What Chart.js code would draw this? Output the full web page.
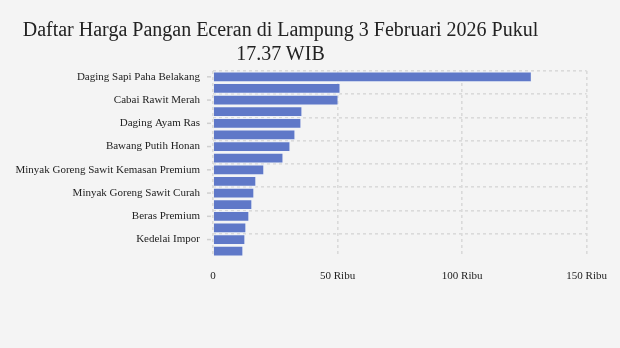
<!DOCTYPE html>
<html>
<head>
<meta charset="utf-8">
<script src="https://cdn.jsdelivr.net/npm/chart.js@4"></script>
<style>
  html, body { margin: 0; padding: 0; background: #f4f4f4; }
  #wrap { position: relative; width: 620px; height: 348px; }
  #title { position: absolute; left: 0; top: 17px; width: 561px; text-align: center;
           font-family: "Liberation Serif", serif; font-size: 20px; line-height: 24px; color: #222; }
  canvas { position: absolute; left: 0; top: 0; }
</style>
</head>
<body>
<div id="wrap">
  <canvas id="c" width="620" height="348"></canvas>
  <div id="title">Daftar Harga Pangan Eceran di Lampung 3 Februari 2026 Pukul<br>17.37 WIB</div>
</div>
<script>
const categories = [
  "Daging Sapi Paha Belakang",
  "Cabai Merah Keriting",
  "Cabai Rawit Merah",
  "Bawang Merah",
  "Daging Ayam Ras",
  "Cabai Merah Besar",
  "Bawang Putih Honan",
  "Telur Ayam Ras",
  "Minyak Goreng Sawit Kemasan Premium",
  "Gula Konsumsi",
  "Minyak Goreng Sawit Curah",
  "Minyakita",
  "Beras Premium",
  "Beras Medium",
  "Kedelai Impor",
  "Tepung Terigu"
];
const prices = [127900, 51100, 50300, 35800, 35400, 33000, 31000, 28200, 20500, 17300, 16500, 15700, 14500, 13300, 12900, 12100];
const xTicks = [0, 50000, 100000, 150000];
const xTickLabels = ["0", "50 Ribu", "100 Ribu", "150 Ribu"];

const labelFont = { family: "Liberation Serif", size: 11 };

const tickMarks = {
  id: 'tickMarks',
  afterDraw(chart) {
    const y = chart.scales.y;
    const ctx = chart.ctx;
    ctx.save();
    ctx.strokeStyle = '#cfcfcf';
    ctx.lineWidth = 1.5;
    categories.forEach((c, i) => {
      if (i % 2 !== 0) return;
      const py = y.getPixelForValue(i);
      ctx.beginPath();
      ctx.moveTo(y.right - 6, py);
      ctx.lineTo(y.right - 2, py);
      ctx.stroke();
    });
    ctx.restore();
  }
};

new Chart(document.getElementById('c'), {
  type: 'bar',
  data: {
    labels: categories,
    datasets: [{
      data: prices,
      backgroundColor: '#5f78c8',
      borderColor: 'rgba(235,240,250,0.8)',
      borderWidth: 0.8,
      barPercentage: 0.9,
      categoryPercentage: 1
    }]
  },
  options: {
    indexAxis: 'y',
    responsive: false,
    animation: false,
    layout: { padding: { top: 71, left: 0, right: 0, bottom: 0 } },
    plugins: { legend: { display: false }, tooltip: { enabled: false }, title: { display: false } },
    scales: {
      y: {
        afterFit(s) { s.width = 213; },
        border: { display: false, dash: [3, 3] },
        grid: {
          offset: true,
          drawTicks: false,
          lineWidth: 1.6,
          color: (ctx) => (ctx.index % 2 === 0 ? '#dadada' : 'rgba(0,0,0,0)')
        },
        ticks: {
          autoSkip: false,
          padding: 13,
          color: '#222',
          font: labelFont,
          callback: (v, i) => (i % 2 === 0 ? categories[i] : '')
        }
      },
      x: {
        min: 0,
        max: 150000,
        afterFit(s) { s.height = 91; },
        afterBuildTicks(s) { s.ticks = xTicks.map(v => ({ value: v })); },
        border: { display: false, dash: [3, 3] },
        grid: { drawTicks: false, color: '#dadada', lineWidth: 1.6 },
        ticks: {
          padding: 13,
          color: '#222',
          font: labelFont,
          maxRotation: 0,
          callback: (v) => xTickLabels[xTicks.indexOf(v)]
        }
      }
    }
  },
  plugins: [tickMarks]
});
</script>
</body>
</html>
